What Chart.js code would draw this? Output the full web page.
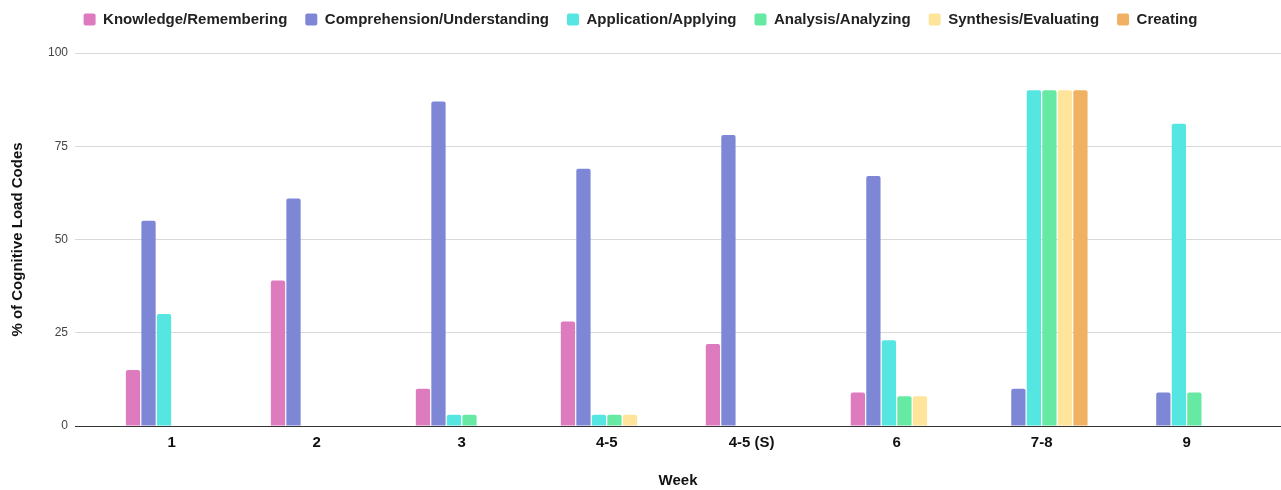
<!DOCTYPE html>
<html>
<head>
<meta charset="utf-8">
<script src="https://cdn.jsdelivr.net/npm/chart.js@4/dist/chart.umd.min.js"></script>
<style>
  html, body { margin: 0; padding: 0; background: #ffffff; }
  #wrap { width: 1281px; height: 490px; }
</style>
</head>
<body>
<div id="wrap"><canvas id="c" width="1281" height="490"></canvas></div>
<script>
const weeks = ['1', '2', '3', '4-5', '4-5 (S)', '6', '7-8', '9'];
const knowledge     = [15, 39, 10, 28, 22,  9,  0,  0];
const comprehension = [55, 61, 87, 69, 78, 67, 10,  9];
const application   = [30,  0,  3,  3,  0, 23, 90, 81];
const analysis      = [ 0,  0,  3,  3,  0,  8, 90,  9];
const synthesis     = [ 0,  0,  0,  3,  0,  8, 90,  0];
const creating      = [ 0,  0,  0,  0,  0,  0, 90,  0];
const yTicks = [0, 25, 50, 75, 100];

const seriesNames = ['Knowledge/Remembering', 'Comprehension/Understanding', 'Application/Applying',
                     'Analysis/Analyzing', 'Synthesis/Evaluating', 'Creating'];
const seriesValues = [knowledge, comprehension, application, analysis, synthesis, creating];
const seriesColors = ['#DE7BBF', '#7D87D5', '#55E6E1', '#66EAA3', '#FFE49B', '#F0B262'];

const FONT = 'Arial, "Liberation Sans", Helvetica, sans-serif';

const datasets = seriesNames.map((name, s) => ({
  label: name,
  data: seriesValues[s].map((v, i) => ({ x: i, y: v })),
  backgroundColor: seriesColors[s],
  borderWidth: 0,
  borderRadius: 2,
  borderSkipped: 'start',
  categoryPercentage: 0.642,
  barPercentage: 0.92
}));

new Chart(document.getElementById('c'), {
  type: 'bar',
  data: { datasets },
  options: {
    responsive: false,
    animation: false,
    devicePixelRatio: 1,
    layout: { padding: { top: -6, left: 0, right: 0, bottom: 0 } },
    plugins: {
      legend: {
        position: 'top',
        align: 'center',
        labels: {
          boxWidth: 12,
          boxHeight: 12,
          padding: 18,
          useBorderRadius: true,
          borderRadius: 2,
          color: '#222222',
          font: { family: FONT, size: 15, weight: 'bold' }
        }
      },
      title: {
        display: true,
        text: '',
        weight: 500,
        padding: { top: 15, bottom: 0 },
        font: { size: 1, lineHeight: 1 }
      },
      tooltip: { enabled: false }
    },
    scales: {
      x: {
        type: 'linear',
        offset: false,
        min: -0.6675,
        max: 7.651,
        grid: { display: false, drawTicks: false, tickLength: 0, offset: false },
        border: { display: true, color: '#333333', width: 1 },
        ticks: {
          stepSize: 1,
          includeBounds: false,
          autoSkip: false,
          maxRotation: 0,
          padding: 8,
          color: '#111111',
          font: { family: FONT, size: 15, weight: 'bold' },
          callback: (v) => Number.isInteger(v) && weeks[v] !== undefined ? weeks[v] : ''
        },
        title: {
          display: true,
          text: 'Week',
          color: '#111111',
          font: { family: FONT, size: 15, weight: 'bold' },
          padding: { top: 12, bottom: 0 }
        }
      },
      y: {
        min: 0,
        max: 100,
        afterBuildTicks: (scale) => { scale.ticks = yTicks.map(v => ({ value: v })); },
        grid: {
          drawTicks: false,
          tickLength: 0,
          color: (ctx) => (ctx.tick && ctx.tick.value === 0) ? '#333333' : '#D9D9D9',
          lineWidth: 1
        },
        border: { display: false },
        ticks: {
          padding: 7,
          color: '#444444',
          font: { family: FONT, size: 12 }
        },
        title: {
          display: true,
          text: '% of Cognitive Load Codes',
          color: '#111111',
          font: { family: FONT, size: 15, weight: 'bold' },
          padding: { top: 9, bottom: 14 }
        }
      }
    }
  }
});
</script>
</body>
</html>
